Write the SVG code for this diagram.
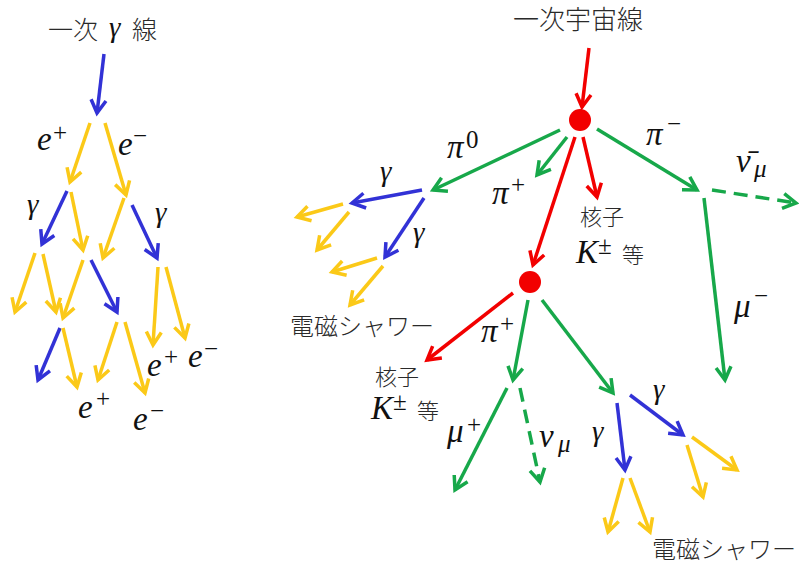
<svg xmlns="http://www.w3.org/2000/svg" width="799" height="562" viewBox="0 0 799 562">
<style>
.b{stroke:#3232d6}.y{stroke:#fbc918}.g{stroke:#17a84a}.r{stroke:#f20000}
.ln{fill:none;stroke-width:3.5}
.d{stroke-dasharray:14 8}
.m{font-family:"Liberation Serif","DejaVu Serif",serif;font-style:italic;font-size:33px;fill:#111}
.gm{font-family:"Liberation Serif","DejaVu Serif",serif;font-style:italic;font-size:29px;fill:#111}
.s{font-family:"Liberation Serif","DejaVu Serif",serif;font-size:25px;fill:#111}
.si{font-family:"Liberation Serif","DejaVu Serif",serif;font-style:italic;font-size:25px;fill:#111}
.j{font-family:"Noto Sans CJK JP","Noto Sans CJK SC",sans-serif;fill:#2a2a2a;font-weight:300}
</style>
<defs>
<marker id="ab" viewBox="-16 -10 20 20" markerWidth="20" markerHeight="20" refX="0" refY="0" orient="auto" markerUnits="userSpaceOnUse"><path d="M-13,-7.5 L0,0 L-13,7.5" fill="none" stroke="#3232d6" stroke-width="3.5"/></marker>
<marker id="ay" viewBox="-16 -10 20 20" markerWidth="20" markerHeight="20" refX="0" refY="0" orient="auto" markerUnits="userSpaceOnUse"><path d="M-13,-7.5 L0,0 L-13,7.5" fill="none" stroke="#fbc918" stroke-width="3.5"/></marker>
<marker id="ag" viewBox="-16 -10 20 20" markerWidth="20" markerHeight="20" refX="0" refY="0" orient="auto" markerUnits="userSpaceOnUse"><path d="M-13,-7.5 L0,0 L-13,7.5" fill="none" stroke="#17a84a" stroke-width="3.5"/></marker>
<marker id="ar" viewBox="-16 -10 20 20" markerWidth="20" markerHeight="20" refX="0" refY="0" orient="auto" markerUnits="userSpaceOnUse"><path d="M-13,-7.5 L0,0 L-13,7.5" fill="none" stroke="#f20000" stroke-width="3.5"/></marker>
</defs>
<rect width="799" height="562" fill="#fff"/>
<g id="connectors">
<line class="ln b" x1="104" y1="54" x2="97" y2="113" marker-end="url(#ab)"/>
<line class="ln y" x1="90" y1="123" x2="70" y2="182" marker-end="url(#ay)"/>
<line class="ln y" x1="105" y1="123" x2="126" y2="195" marker-end="url(#ay)"/>
<line class="ln b" x1="67" y1="191" x2="42" y2="244" marker-end="url(#ab)"/>
<line class="ln y" x1="71" y1="192" x2="83" y2="250" marker-end="url(#ay)"/>
<line class="ln y" x1="124" y1="198" x2="103" y2="258" marker-end="url(#ay)"/>
<line class="ln b" x1="132" y1="205" x2="157" y2="258" marker-end="url(#ab)"/>
<line class="ln y" x1="35" y1="253" x2="15" y2="312" marker-end="url(#ay)"/>
<line class="ln y" x1="43" y1="254" x2="56" y2="312" marker-end="url(#ay)"/>
<line class="ln y" x1="83" y1="260" x2="63" y2="318" marker-end="url(#ay)"/>
<line class="ln b" x1="91" y1="260" x2="117" y2="312" marker-end="url(#ab)"/>
<line class="ln y" x1="158" y1="267" x2="153" y2="345" marker-end="url(#ay)"/>
<line class="ln y" x1="166" y1="267" x2="185" y2="338" marker-end="url(#ay)"/>
<line class="ln b" x1="60" y1="328" x2="38" y2="380" marker-end="url(#ab)"/>
<line class="ln y" x1="63" y1="328" x2="77" y2="387" marker-end="url(#ay)"/>
<line class="ln y" x1="117" y1="322" x2="98" y2="380" marker-end="url(#ay)"/>
<line class="ln y" x1="125" y1="322" x2="145" y2="393" marker-end="url(#ay)"/>
<line class="ln r" x1="589" y1="48" x2="582" y2="107" marker-end="url(#ar)"/>
<line class="ln g" x1="560" y1="130" x2="433" y2="190" marker-end="url(#ag)"/>
<line class="ln g" x1="567" y1="137" x2="537" y2="175" marker-end="url(#ag)"/>
<line class="ln r" x1="575" y1="137" x2="533" y2="265" marker-end="url(#ar)"/>
<line class="ln r" x1="583" y1="137" x2="597" y2="197" marker-end="url(#ar)"/>
<line class="ln g" x1="597" y1="129" x2="697" y2="190" marker-end="url(#ag)"/>
<line class="ln g d" x1="712" y1="190" x2="796" y2="203" marker-end="url(#ag)"/>
<line class="ln g" x1="704" y1="198" x2="725" y2="380" marker-end="url(#ag)"/>
<line class="ln b" x1="422" y1="190" x2="352" y2="203" marker-end="url(#ab)"/>
<line class="ln b" x1="424" y1="198" x2="385" y2="257" marker-end="url(#ab)"/>
<line class="ln y" x1="343" y1="204" x2="297" y2="217" marker-end="url(#ay)"/>
<line class="ln y" x1="349" y1="212" x2="317" y2="250" marker-end="url(#ay)"/>
<line class="ln y" x1="377" y1="258" x2="332" y2="272" marker-end="url(#ay)"/>
<line class="ln y" x1="383" y1="266" x2="350" y2="305" marker-end="url(#ay)"/>
<line class="ln r" x1="513" y1="293" x2="427" y2="360" marker-end="url(#ar)"/>
<line class="ln g" x1="528" y1="300" x2="513" y2="380" marker-end="url(#ag)"/>
<line class="ln g" x1="542" y1="300" x2="613" y2="393" marker-end="url(#ag)"/>
<line class="ln g" x1="507" y1="388" x2="455" y2="490" marker-end="url(#ag)"/>
<line class="ln g d" x1="520" y1="388" x2="540" y2="482" marker-end="url(#ag)"/>
<line class="ln b" x1="617" y1="403" x2="625" y2="470" marker-end="url(#ab)"/>
<line class="ln b" x1="630" y1="395" x2="683" y2="435" marker-end="url(#ab)"/>
<line class="ln y" x1="623" y1="478" x2="608" y2="532" marker-end="url(#ay)"/>
<line class="ln y" x1="630" y1="478" x2="650" y2="532" marker-end="url(#ay)"/>
<line class="ln y" x1="687" y1="445" x2="703" y2="497" marker-end="url(#ay)"/>
<line class="ln y" x1="692" y1="437" x2="737" y2="470" marker-end="url(#ay)"/>
</g>
<g id="vertex1"><circle cx="580" cy="120" r="11" fill="#f20000"/></g>
<g id="vertex2"><circle cx="530" cy="282" r="11" fill="#f20000"/></g>
<g id="title-gamma"><text class="j" x="48" y="39" font-size="25">一次</text><text class="gm" x="109" y="37">γ</text><text class="j" x="132" y="39" font-size="25">線</text></g>
<g id="lbl-ep1"><text class="m" x="37" y="150">e</text><text class="s" x="53" y="141">+</text></g>
<g id="lbl-em1"><text class="m" x="118" y="155">e</text><text class="s" x="133" y="144">−</text></g>
<g id="lbl-g1"><text class="gm" x="27" y="214">γ</text></g>
<g id="lbl-g2"><text class="gm" x="155" y="222">γ</text></g>
<g id="lbl-epem"><text class="m" x="147" y="376">e</text><text class="s" x="164" y="365">+</text><text class="m" x="188" y="367">e</text><text class="s" x="204" y="357">−</text></g>
<g id="lbl-ep2"><text class="m" x="78" y="418">e</text><text class="s" x="96" y="407">+</text></g>
<g id="lbl-em2"><text class="m" x="133" y="430">e</text><text class="s" x="150" y="419">−</text></g>
<g id="title-cosmic"><text class="j" x="513" y="29" font-size="26">一次宇宙線</text></g>
<g id="lbl-pi0"><text class="m" x="447" y="158">π</text><text class="s" x="466" y="148">0</text></g>
<g id="lbl-pip1"><text class="m" x="492" y="204">π</text><text class="s" x="511" y="193">+</text></g>
<g id="lbl-pim"><text class="m" x="646" y="145">π</text><text class="s" x="667" y="132">−</text></g>
<g id="lbl-nubar"><text class="m" x="736" y="172">ν̄</text><text class="si" x="754" y="177">μ</text></g>
<g id="lbl-nuc1"><text class="j" x="580" y="225" font-size="22">核子</text><text class="m" x="576" y="263">K</text><text class="s" x="598" y="254">±</text><text class="j" x="622" y="263" font-size="22">等</text></g>
<g id="lbl-mum"><text class="m" x="734" y="317">μ</text><text class="s" x="754" y="304">−</text></g>
<g id="lbl-g3"><text class="gm" x="380" y="181">γ</text></g>
<g id="lbl-g4"><text class="gm" x="413" y="242">γ</text></g>
<g id="lbl-shower1"><text class="j" x="290" y="335" font-size="24">電磁シャワー</text></g>
<g id="lbl-pip2"><text class="m" x="481" y="342">π</text><text class="s" x="500" y="332">+</text></g>
<g id="lbl-nuc2"><text class="j" x="375" y="385" font-size="22">核子</text><text class="m" x="371" y="419">K</text><text class="s" x="393" y="410">±</text><text class="j" x="417" y="419" font-size="22">等</text></g>
<g id="lbl-mup"><text class="m" x="447" y="442">μ</text><text class="s" x="467" y="433">+</text></g>
<g id="lbl-numu"><text class="m" x="539" y="447">ν</text><text class="si" x="558" y="452">μ</text></g>
<g id="lbl-g5"><text class="gm" x="592" y="441">γ</text></g>
<g id="lbl-g6"><text class="gm" x="653" y="399">γ</text></g>
<g id="lbl-shower2"><text class="j" x="652" y="558" font-size="24">電磁シャワー</text></g>
</svg>
